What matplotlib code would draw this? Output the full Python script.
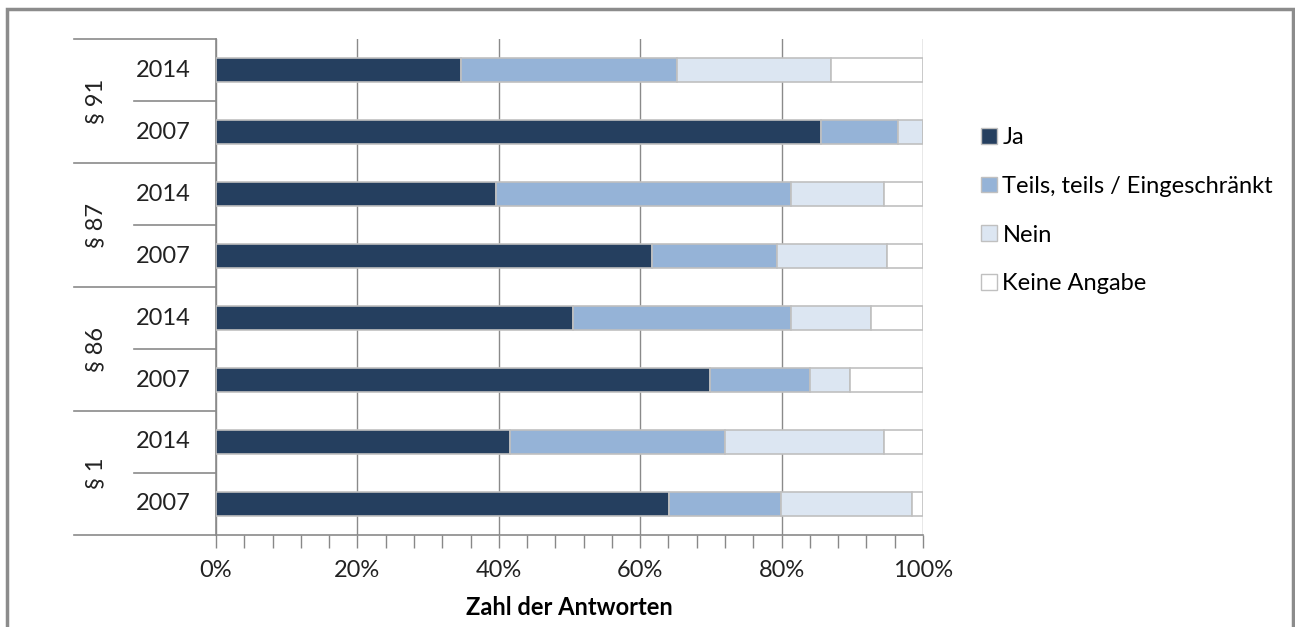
import matplotlib.pyplot as plt
import numpy as np
from matplotlib.ticker import MultipleLocator, PercentFormatter
from matplotlib.lines import Line2D
from matplotlib.patches import Rectangle

plt.rcParams['font.family'] = ['Lato', 'DejaVu Sans']

# rows from top to bottom
groups = ['§ 91', '§ 87', '§ 86', '§ 1']
years = ['2014', '2007']
series = ['Ja', 'Teils, teils / Eingeschränkt', 'Nein', 'Keine Angabe']
colors = ['#253f5f', '#95b3d7', '#dce6f2', '#ffffff']

ja = [34.7, 85.6, 39.6, 61.7, 50.5, 69.9, 41.6, 64.1]
teils = [30.5, 10.9, 41.7, 17.6, 30.8, 14.1, 30.4, 15.8]
nein = [21.8, 3.5, 13.2, 15.6, 11.3, 5.7, 22.5, 18.5]
keine = [13.0, 0.0, 5.5, 5.1, 7.4, 10.3, 5.5, 1.6]

W, H = 1295, 627
fig = plt.figure(figsize=(W / 100, H / 100), dpi=100)
ax = fig.add_axes([216 / W, 1 - 535 / H, (923 - 216) / W, (535 - 39) / H])
px = 100 / (923 - 216)  # data units per pixel along x

n = len(ja)
y = np.arange(n) + 0.5
left = np.zeros(n)
for vals, col, name in zip([ja, teils, nein, keine], colors, series):
    ax.barh(y, vals, left=left, height=0.39, color=col, edgecolor='#c0c0c0',
            linewidth=1.2, label=name, zorder=3)
    left += np.array(vals)

fs = 17
ax.set_xlim(0, 100)
ax.set_ylim(n, 0)
ax.xaxis.set_major_locator(MultipleLocator(20))
ax.xaxis.set_minor_locator(MultipleLocator(4))
ax.xaxis.set_major_formatter(PercentFormatter(decimals=0))
ax.tick_params(axis='x', which='both', length=9, width=1, color='#888888',
               labelsize=fs, pad=9, labelcolor='#222222')
ax.set_yticks([])
ax.grid(axis='x', which='major', color='#8a8a8a', linewidth=1, zorder=0)
for side in ['top', 'right']:
    ax.spines[side].set_visible(False)
for side in ['left', 'bottom']:
    ax.spines[side].set_color('#8a8a8a')
    ax.spines[side].set_linewidth(1.2)
ax.set_xlabel('Zahl der Antworten', fontsize=fs, fontweight='bold', labelpad=11)

# category axis: year labels, group labels and separators
grp_x0 = (74 - 216) * px
yr_x0 = (134 - 216) * px
line_kw = dict(color='#8a8a8a', linewidth=1.2, clip_on=False, zorder=1)
for i in range(n):
    ax.text((163 - 216) * px, y[i], years[i % 2], ha='center',
            va='center', fontsize=fs, color='#222222')
for g, name in enumerate(groups):
    ax.text((96 - 216) * px, 2 * g + 1, name, rotation=90,
            ha='center', va='center', fontsize=fs, color='#222222')
    ax.add_line(Line2D([grp_x0, 0], [2 * g, 2 * g], **line_kw))
    ax.add_line(Line2D([yr_x0, 0], [2 * g + 1, 2 * g + 1], **line_kw))
ax.add_line(Line2D([grp_x0, 0], [n, n], **line_kw))

leg = fig.legend(loc='upper left', bbox_to_anchor=(960 / W, 1 - 106 / H),
                 frameon=False, fontsize=fs, handlelength=0.65, handleheight=0.65,
                 handletextpad=0.25, labelspacing=1.17)
for h in leg.legend_handles:
    h.set_edgecolor('#c0c0c0')
    h.set_linewidth(1)

fig.patches.append(Rectangle((7 / W, -0.1), (1293 - 7) / W, 1 - 9 / H + 0.1,
                             transform=fig.transFigure, fill=False,
                             edgecolor='#8c8c8c', linewidth=2.5))

fig.savefig('out.png', dpi=100)
